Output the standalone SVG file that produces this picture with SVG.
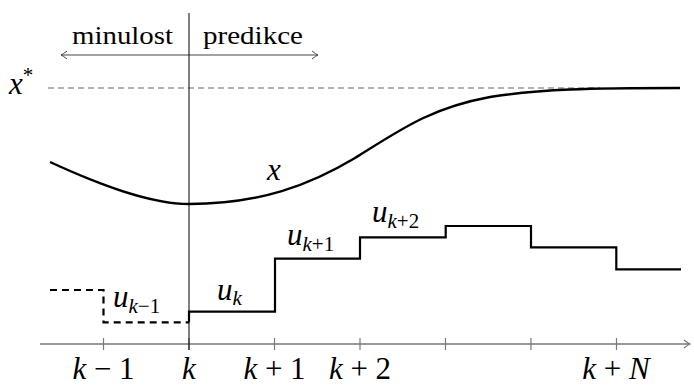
<svg xmlns="http://www.w3.org/2000/svg" width="694" height="385" viewBox="0 0 694 385">
<defs>
<style>
.m{font-style:italic;font-size:31px}
.r{font-style:normal}
.s{font-size:21px}
.ax{stroke:#777;stroke-width:1.6;fill:none}
.tick{stroke:#777;stroke-width:1.2}
.u{stroke:#000;stroke-width:2.2;fill:none;stroke-linejoin:miter}
</style>
<marker id="to" viewBox="-6 -5 8 10" refX="1" refY="0" markerWidth="8" markerHeight="10" markerUnits="userSpaceOnUse" orient="auto">
<path d="M-5,-4 Q-1,-0.8 1,0 Q-1,0.8 -5,4" fill="none" stroke="#444" stroke-width="1"/>
</marker>
<marker id="toa" viewBox="-6 -5 8 10" refX="1" refY="0" markerWidth="8" markerHeight="10" markerUnits="userSpaceOnUse" orient="auto">
<path d="M-5,-4 Q-1,-0.8 1,0 Q-1,0.8 -5,4" fill="none" stroke="#777" stroke-width="1.2"/>
</marker>
</defs>
<rect width="694" height="385" fill="#fff"/>

<g id="connectors">
<line x1="189" y1="55" x2="61" y2="55" stroke="#444" stroke-width="1.2" marker-end="url(#to)"/>
<line x1="189" y1="55" x2="318" y2="55" stroke="#444" stroke-width="1.2" marker-end="url(#to)"/>
<line x1="48" y1="88" x2="600" y2="88" stroke="#666" stroke-width="1.2" stroke-dasharray="6,4"/>
<line x1="40" y1="344" x2="690" y2="344" class="ax" marker-end="url(#toa)"/>
<line x1="103.5" y1="338" x2="103.5" y2="350" class="tick"/>
<line x1="189" y1="338" x2="189" y2="350" class="tick"/>
<line x1="274.5" y1="338" x2="274.5" y2="350" class="tick"/>
<line x1="360" y1="338" x2="360" y2="350" class="tick"/>
<line x1="445.5" y1="338" x2="445.5" y2="350" class="tick"/>
<line x1="531" y1="338" x2="531" y2="350" class="tick"/>
<line x1="616.5" y1="338" x2="616.5" y2="350" class="tick"/>
<line x1="189" y1="13" x2="189" y2="350" stroke="#000" stroke-width="1"/>
</g>

<g font-family="Liberation Serif, Times New Roman, serif" fill="#000">
<g id="state-curve">
<path d="M50,162 C100,185 150,204 189,204 C260,204 310,185 355,158 C400,130 430,108 490,97 C540,89 590,88 680,88" fill="none" stroke="#000" stroke-width="2.4"/>
<text class="m" x="267" y="180">x</text>
</g>

<g id="past-input">
<path d="M50,290 H103.5 V322.3 H189" class="u" stroke-dasharray="7,5"/>
<text class="m" x="113" y="307">u<tspan class="s" dy="6">k</tspan><tspan class="s r">−1</tspan></text>
</g>

<g id="predicted-input">
<path d="M189,322.3 V311.7 H275 V258.7 H360 V237.3 H445.7 V226 H531 V247.3 H616.3 V269.3 H681" class="u"/>
<text class="m" x="217" y="300">u<tspan class="s" dy="5">k</tspan></text>
<text class="m" x="287" y="245">u<tspan class="s" dy="6">k</tspan><tspan class="s r">+1</tspan></text>
<text class="m" x="372" y="222">u<tspan class="s" dy="6">k</tspan><tspan class="s r">+2</tspan></text>
</g>

<g id="labels">
<text x="72" y="44" font-size="26" textLength="101" lengthAdjust="spacingAndGlyphs">minulost</text>
<text x="203" y="44" font-size="26" textLength="100" lengthAdjust="spacingAndGlyphs">predikce</text>
<text class="m" x="9" y="94">x<tspan class="s r" dy="-12">*</tspan></text>
<text class="m" x="103.5" y="379" text-anchor="middle">k <tspan class="r">− 1</tspan></text>
<text class="m" x="189" y="379" text-anchor="middle">k</text>
<text class="m" x="274.5" y="379" text-anchor="middle">k <tspan class="r">+ 1</tspan></text>
<text class="m" x="360" y="379" text-anchor="middle">k <tspan class="r">+ 2</tspan></text>
<text class="m" x="616" y="379" text-anchor="middle">k <tspan class="r">+</tspan> N</text>
</g>
</g>
</svg>
